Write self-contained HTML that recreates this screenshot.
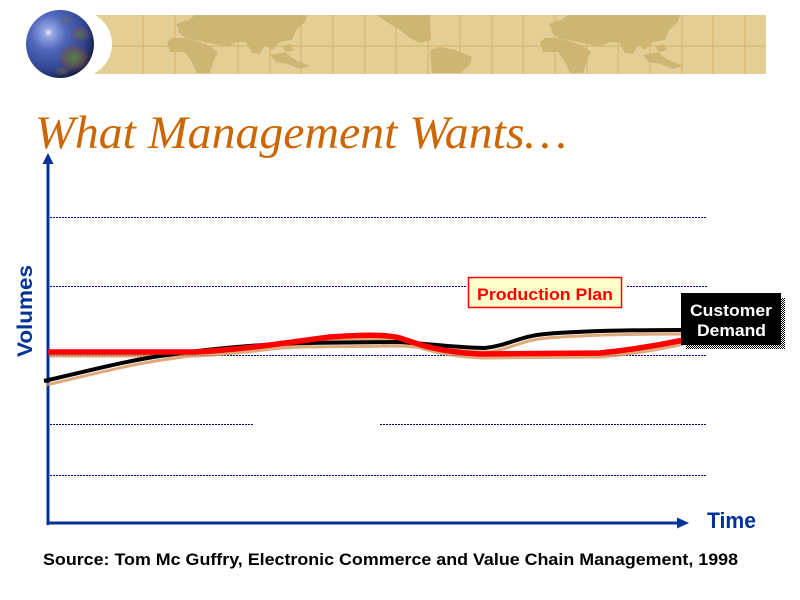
<!DOCTYPE html>
<html>
<head>
<meta charset="utf-8">
<style>
  html, body { margin:0; padding:0; background:#fff; }
  body { width:800px; height:600px; overflow:hidden; }
  svg { display:block; }
</style>
</head>
<body>
<svg width="800" height="600" viewBox="0 0 800 600" xmlns="http://www.w3.org/2000/svg">
  <defs>
    <radialGradient id="globe" cx="0.33" cy="0.33" r="0.75">
      <stop offset="0" stop-color="#eef0ff"/>
      <stop offset="0.08" stop-color="#98a8e4"/>
      <stop offset="0.35" stop-color="#5068bc"/>
      <stop offset="0.75" stop-color="#2e4290"/>
      <stop offset="1" stop-color="#101638"/>
    </radialGradient>
    <radialGradient id="land" cx="0.5" cy="0.5" r="0.5">
      <stop offset="0" stop-color="#4f8a3a" stop-opacity="0.95"/>
      <stop offset="0.6" stop-color="#7a5a48" stop-opacity="0.6"/>
      <stop offset="1" stop-color="#6a4a50" stop-opacity="0"/>
    </radialGradient>
    <pattern id="dither" width="2" height="2" patternUnits="userSpaceOnUse">
      <rect width="2" height="2" fill="#fff"/>
      <rect width="1" height="1" fill="#000"/>
      <rect x="1" y="1" width="1" height="1" fill="#000"/>
    </pattern>
    <g id="eurasia" fill="#cdb574">
      <path d="M183,24 L195,15 L307,15 L305,22 L296,30 L292,40 L280,42 L272,50 L265,45 L260,54 L252,53 L246,42 L236,42 L228,47 L215,44 L205,42 L195,40 L186,38 L178,32 Z"/>
      <path d="M167,42 L172,38 L185,38 L200,42 L210,46 L218,52 L214,60 L210,73 L197,73 L192,62 L185,52 L170,52 Z"/>
      <path d="M270,55 L285,52 L292,58 L300,62 L310,66 L300,69 L288,64 L276,62 Z"/>
      <path d="M282,46 L290,44 L294,50 L286,52 Z"/>
      <path d="M176,24 L186,20 L190,28 L180,32 Z"/>
    </g>
  </defs>

  <!-- Banner -->
  <rect x="95" y="15" width="671" height="59" fill="#e3cf94"/>
  <use href="#eurasia"/>
  <use href="#eurasia" transform="translate(373,0)"/>
  <!-- North America -->
  <path d="M377,15 L430,15 L431,40 L420,43 L410,38 L400,30 L390,24 Z" fill="#cdb574"/>
  <!-- South America -->
  <path d="M430,50 L440,47 L455,50 L472,57 L470,65 L460,73 L432,73 Z" fill="#cdb574"/>
  <!-- grid lines on banner -->
  <g stroke="#d4b16c" stroke-width="1">
    <line x1="95" y1="46" x2="766" y2="46"/>
    <line x1="143" y1="15" x2="143" y2="74"/>
    <line x1="175" y1="15" x2="175" y2="74"/>
    <line x1="206" y1="15" x2="206" y2="74"/>
    <line x1="238" y1="15" x2="238" y2="74"/>
    <line x1="270" y1="15" x2="270" y2="74"/>
    <line x1="301" y1="15" x2="301" y2="74"/>
    <line x1="333" y1="15" x2="333" y2="74"/>
    <line x1="365" y1="15" x2="365" y2="74"/>
    <line x1="396" y1="15" x2="396" y2="74"/>
    <line x1="428" y1="15" x2="428" y2="74"/>
    <line x1="460" y1="15" x2="460" y2="74"/>
    <line x1="492" y1="15" x2="492" y2="74"/>
    <line x1="523" y1="15" x2="523" y2="74"/>
    <line x1="555" y1="15" x2="555" y2="74"/>
    <line x1="587" y1="15" x2="587" y2="74"/>
    <line x1="618" y1="15" x2="618" y2="74"/>
    <line x1="650" y1="15" x2="650" y2="74"/>
    <line x1="682" y1="15" x2="682" y2="74"/>
    <line x1="713" y1="15" x2="713" y2="74"/>
    <line x1="745" y1="15" x2="745" y2="74"/>
  </g>
  <!-- white crescent -->
  <circle cx="79" cy="44" r="33" fill="#fff"/>
  <!-- globe -->
  <circle cx="60" cy="44" r="34" fill="url(#globe)"/>
  <ellipse cx="74" cy="58" rx="17" ry="15" fill="url(#land)"/>
  <ellipse cx="80" cy="34" rx="11" ry="9" fill="url(#land)" opacity="0.7"/>
  <ellipse cx="62" cy="71" rx="9" ry="5" fill="url(#land)" opacity="0.6"/>
  <ellipse cx="66" cy="20" rx="8" ry="5" fill="url(#land)" opacity="0.4"/>

  <!-- Title -->
  <text x="35" y="148" font-family="Liberation Serif, serif" font-style="italic" font-size="47" fill="#cc6600" textLength="532" lengthAdjust="spacingAndGlyphs">What Management Wants…</text>

  <!-- gridlines -->
  <g stroke="#000088" stroke-width="1" stroke-dasharray="2 1">
    <line x1="50" y1="217.5" x2="707" y2="217.5"/>
    <line x1="50" y1="286.5" x2="466" y2="286.5"/>
    <line x1="627" y1="286.5" x2="707" y2="286.5"/>
    <line x1="50" y1="355.5" x2="707" y2="355.5"/>
    <line x1="50" y1="424.5" x2="253" y2="424.5"/>
    <line x1="380" y1="424.5" x2="707" y2="424.5"/>
    <line x1="50" y1="475.5" x2="707" y2="475.5"/>
  </g>

  <!-- axes -->
  <g fill="#003399">
    <rect x="46.5" y="160" width="3" height="365"/>
    <polygon points="48,153 42.5,164 53.5,164"/>
    <rect x="46.5" y="521.5" width="634" height="3"/>
    <polygon points="689,523 677,517.5 677,528.5"/>
  </g>

  <!-- shadows -->
  <g fill="none" stroke="#d8955a" stroke-width="3" opacity="0.8">
    <path d="M46,385 C 82,377 122,366 162,360 C 202,354 252,349 302,347 L 402,346 C 432,348 462,352 487,352 C 512,349 522,340 547,338 C 582,335 622,334 684,334"/>
    <path d="M50,356 L197,356 C 252,353 292,346 332,341 C 362,339 387,338 402,342 C 422,349 442,356 482,358 L 602,357 C 632,354 662,349 684,344"/>
  </g>

  <!-- Customer Demand (black) -->
  <path d="M44,381 C 80,373 120,362 160,356 C 200,350 250,345 300,343 L 400,342 C 430,344 460,348 485,348 C 510,345 520,336 545,334 C 580,331 620,330 684,330" fill="none" stroke="#000" stroke-width="4"/>
  <!-- Production Plan (red) -->
  <path d="M48,352 L195,352 C 250,349 290,342 330,337 C 360,335 385,334 400,338 C 420,345 440,352 480,354 L 600,353 C 630,350 660,345 684,340" fill="none" stroke="#ff0000" stroke-width="5.5"/>

  <!-- Production Plan label -->
  <rect x="468.5" y="277.5" width="153" height="30" fill="#ffffcc" stroke="#ff0000" stroke-width="1.5"/>
  <text x="477" y="300" font-family="Liberation Sans, sans-serif" font-weight="bold" font-size="17" fill="#ff0000" textLength="136" lengthAdjust="spacingAndGlyphs">Production Plan</text>

  <!-- Customer Demand label -->
  <rect x="686" y="298" width="99" height="51" fill="url(#dither)"/>
  <rect x="681" y="293" width="100" height="52" fill="#000"/>
  <text x="690" y="316" font-family="Liberation Sans, sans-serif" font-weight="bold" font-size="17" fill="#fff" textLength="82" lengthAdjust="spacingAndGlyphs">Customer</text>
  <text x="697" y="336" font-family="Liberation Sans, sans-serif" font-weight="bold" font-size="17" fill="#fff" textLength="69" lengthAdjust="spacingAndGlyphs">Demand</text>

  <!-- axis labels -->
  <text transform="translate(32,357) rotate(-90)" font-family="Liberation Sans, sans-serif" font-weight="bold" font-size="21" fill="#003399" textLength="92" lengthAdjust="spacingAndGlyphs">Volumes</text>
  <text x="707" y="528" font-family="Liberation Sans, sans-serif" font-weight="bold" font-size="22" fill="#003399" textLength="49" lengthAdjust="spacingAndGlyphs">Time</text>

  <!-- source -->
  <text x="43" y="565" font-family="Liberation Sans, sans-serif" font-weight="bold" font-size="17" fill="#000" textLength="695" lengthAdjust="spacingAndGlyphs">Source: Tom Mc Guffry, Electronic Commerce and Value Chain Management, 1998</text>
</svg>
</body>
</html>
